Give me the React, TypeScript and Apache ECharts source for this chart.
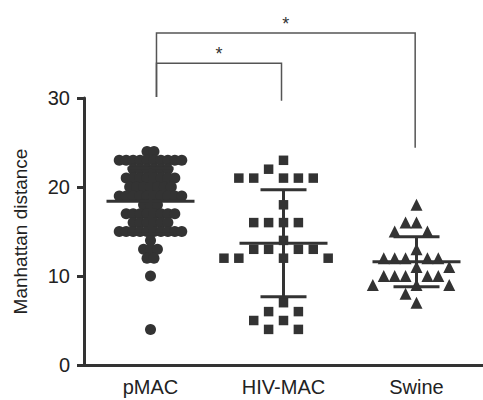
import React, { useEffect, useRef } from "react";
import * as echarts from "echarts";

const categories = ["pMAC", "HIV-MAC", "Swine"];
const pMAC = [
  24, 24,
  23, 23, 23, 23, 23, 23, 23, 23, 23, 23,
  22, 22, 22, 22, 22, 22,
  21, 21, 21, 21, 21, 21, 21, 21,
  20, 20, 20, 20, 20, 20, 20,
  19, 19, 19, 19, 19, 19, 19, 19, 19, 19,
  18, 18, 18,
  17, 17, 17, 17, 17, 17, 17, 17,
  16, 16, 16, 16, 16, 16,
  15, 15, 15, 15, 15, 15, 15, 15, 15, 15,
  14,
  13, 13, 13,
  12, 12,
  10,
  4,
];
const hivMAC = [23, 22, 21, 21, 21, 21, 21, 18, 16, 16, 16, 16, 14, 13, 13, 13, 13, 12, 12, 12, 12, 7, 6, 6, 5, 5, 4, 4];
const swine = [18, 16, 16, 15, 15, 13, 12, 12, 12, 12, 12, 11, 11, 10, 10, 10, 10, 10, 9, 9, 9, 8, 7];
const groups = [pMAC, hivMAC, swine];
const symbols = ["circle", "rect", "triangle"];
const symbolSizes = [11, 9.5, 12];

// layout settings for the dot swarm of each group (pixels)
const swarmCfg = [
  { centered: true, step: 7, rowGap: 7, boxW: 0, boxH: 0 },
  { centered: false, step: 7.5, rowGap: 15, boxW: 10.5, boxH: 10.5 },
  { centered: false, step: 5.5, rowGap: 11, boxW: 11, boxH: 10 },
];

// significance brackets: x in category units (centres at 0.5, 1.5, 2.5), y in data units
const brackets = [
  { x1: 0.545, x2: 2.49, top: 37.3, bottom1: 30.1, bottom2: 24.4, label: "*" },
  { x1: 0.545, x2: 1.485, top: 33.9, bottom1: 30.1, bottom2: 29.7, label: "*" },
];

const GRID_LEFT = 84;
const GRID_TOP = 98;
const GRID_W = 402;
const GRID_H = 267;
const Y_MAX = 30;
const INK = "#333";
const FONT = "'Liberation Sans', Arial, Helvetica, sans-serif";

function swarm(values: number[], catIndex: number) {
  const pxPerUnit = GRID_W / categories.length;
  const pxPerVal = GRID_H / Y_MAX;
  const cfg = swarmCfg[catIndex];
  if (cfg.centered) {
    const counts: Record<number, number> = {};
    values.forEach((v) => (counts[v] = (counts[v] || 0) + 1));
    const seen: Record<number, number> = {};
    return values.map((v) => {
      const n = counts[v];
      const k = seen[v] || 0;
      seen[v] = k + 1;
      const offPx = (k - (n - 1) / 2) * cfg.step;
      return [catIndex + 0.5 + offPx / pxPerUnit, v];
    });
  }
  const placed: { x: number; y: number; v: number }[] = [];
  return values.map((v) => {
    const y = v * pxPerVal;
    let off = 0;
    for (let k = 0; k < 200; k++) {
      off = k === 0 ? 0 : (k % 2 ? -1 : 1) * Math.ceil(k / 2) * cfg.step;
      const ok = placed.every((p) =>
        p.v === v
          ? Math.abs(p.x - off) >= cfg.rowGap - 1e-6
          : !(Math.abs(p.x - off) < cfg.boxW && Math.abs(p.y - y) < cfg.boxH)
      );
      if (ok) break;
    }
    placed.push({ x: off, y, v });
    return [catIndex + 0.5 + off / pxPerUnit, v];
  });
}

function stats(values: number[]) {
  const n = values.length;
  const mean = values.reduce((a, b) => a + b, 0) / n;
  const sd = Math.sqrt(values.reduce((a, b) => a + (b - mean) * (b - mean), 0) / (n - 1));
  return [mean, sd];
}

export default function App() {
  const ref = useRef<HTMLDivElement>(null);
  useEffect(() => {
    if (!ref.current) return;
    const chart = echarts.init(ref.current, null, { renderer: "svg" });
    const scatterSeries = groups.map((vals, i) => ({
      type: "scatter",
      xAxisIndex: 1,
      yAxisIndex: 0,
      symbol: symbols[i],
      symbolSize: symbolSizes[i],
      itemStyle: { color: INK, opacity: 1 },
      data: swarm(vals, i),
      z: 2,
    }));
    const summary = groups.map((vals, i) => {
      const [m, s] = stats(vals);
      return [i + 0.5, m, s];
    });
    chart.setOption({
      animation: false,
      grid: { left: GRID_LEFT, top: GRID_TOP, width: GRID_W, height: GRID_H },
      xAxis: [
        {
          type: "category",
          data: categories,
          boundaryGap: true,
          axisLine: { onZero: false, lineStyle: { color: INK, width: 3 } },
          axisTick: { alignWithLabel: true, length: 4, lineStyle: { color: INK, width: 2 } },
          axisLabel: { fontSize: 20, color: "#222", margin: 12, fontFamily: FONT },
          splitLine: { show: false },
        },
        { type: "value", min: 0, max: categories.length, show: false },
      ],
      yAxis: {
        type: "value",
        min: 0,
        max: Y_MAX,
        interval: 10,
        name: "Manhattan distance",
        nameLocation: "middle",
        nameGap: 54,
        nameTextStyle: { fontSize: 19, color: "#222", fontFamily: FONT },
        axisLine: { show: true, onZero: false, lineStyle: { color: INK, width: 3 } },
        axisTick: { show: true, length: 7, lineStyle: { color: INK, width: 3 } },
        axisLabel: { fontSize: 20, color: "#222", margin: 14, fontFamily: FONT },
        splitLine: { show: false },
      },
      series: [
        ...scatterSeries,
        {
          type: "custom",
          xAxisIndex: 1,
          yAxisIndex: 0,
          z: 3,
          data: summary,
          renderItem: (params: any, api: any) => {
            const x = api.value(0);
            const m = api.value(1);
            const s = api.value(2);
            const c = api.coord([x, m]);
            const t = api.coord([x, m + s]);
            const b = api.coord([x, m - s]);
            const st = { stroke: INK, lineWidth: 3 };
            return {
              type: "group",
              children: [
                { type: "line", shape: { x1: c[0] - 44, y1: c[1], x2: c[0] + 44, y2: c[1] }, style: st },
                { type: "line", shape: { x1: t[0] - 23, y1: t[1], x2: t[0] + 23, y2: t[1] }, style: st },
                { type: "line", shape: { x1: b[0] - 23, y1: b[1], x2: b[0] + 23, y2: b[1] }, style: st },
                { type: "line", shape: { x1: t[0], y1: t[1], x2: b[0], y2: b[1] }, style: st },
              ],
            };
          },
        },
        {
          type: "custom",
          xAxisIndex: 1,
          yAxisIndex: 0,
          clip: false,
          z: 4,
          data: brackets.map((b) => [b.x1, b.top]),
          renderItem: (params: any, api: any) => {
            const br = brackets[params.dataIndex];
            const p1 = api.coord([br.x1, br.top]);
            const p2 = api.coord([br.x2, br.top]);
            const l = api.coord([br.x1, br.bottom1]);
            const r = api.coord([br.x2, br.bottom2]);
            const st = { stroke: "#555", lineWidth: 1.5 };
            return {
              type: "group",
              children: [
                { type: "polyline", shape: { points: [[l[0], l[1]], [p1[0], p1[1]], [p2[0], p2[1]], [r[0], r[1]]] }, style: { ...st, fill: null } },
                {
                  type: "text",
                  style: {
                    text: br.label,
                    x: (p1[0] + p2[0]) / 2,
                    y: p1[1] - 9,
                    align: "center",
                    verticalAlign: "middle",
                    fontSize: 18,
                    fontFamily: FONT,
                    fill: "#333",
                  },
                },
              ],
            };
          },
        },
      ],
    });
    return () => chart.dispose();
  }, []);
  return <div ref={ref} style={{ position: "absolute", left: 0, top: 0, width: 483, height: 400 }} />;
}
